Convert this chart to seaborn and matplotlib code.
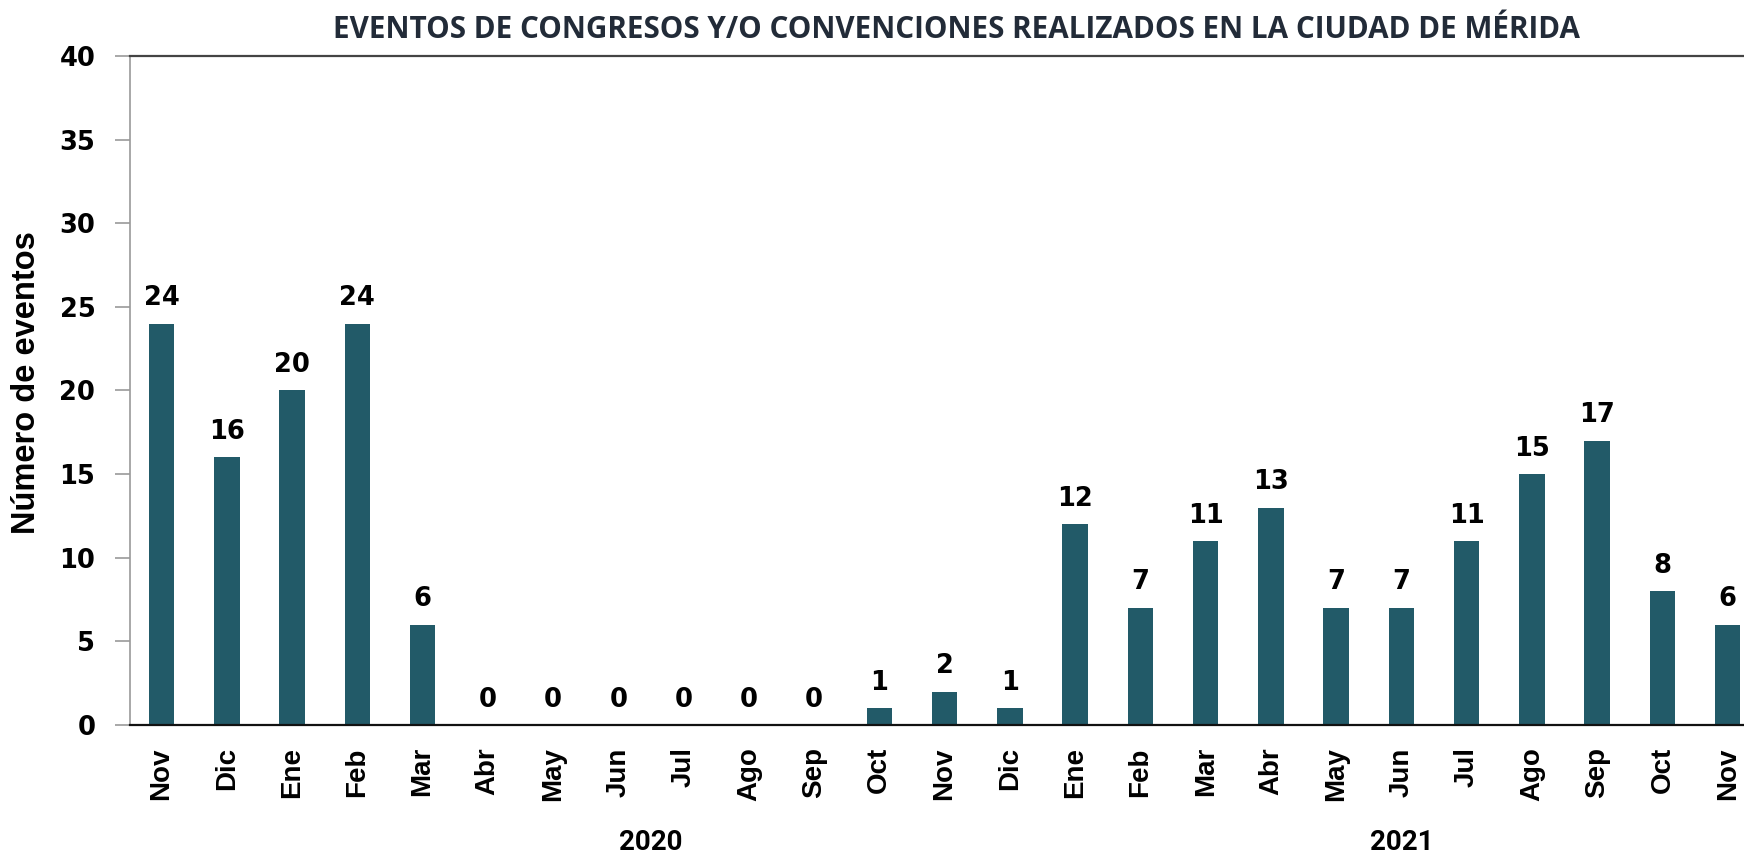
import matplotlib
matplotlib.use("Agg")
import matplotlib.pyplot as plt
import seaborn as sns
import pandas as pd
import numpy as np

title = "EVENTOS DE CONGRESOS Y/O CONVENCIONES REALIZADOS EN LA CIUDAD DE MÉRIDA"
ylabel = "Número de eventos"
months = ["Nov", "Dic", "Ene", "Feb", "Mar", "Abr", "May", "Jun", "Jul", "Ago", "Sep", "Oct", "Nov",
          "Dic", "Ene", "Feb", "Mar", "Abr", "May", "Jun", "Jul", "Ago", "Sep", "Oct", "Nov"]
years = ["2019"] * 2 + ["2020"] * 12 + ["2021"] * 11
values = [24, 16, 20, 24, 6, 0, 0, 0, 0, 0, 0, 1, 2, 1, 12, 7, 11, 13, 7, 7, 11, 15, 17, 8, 6]
shown_years = ["2020", "2021"]
yticks = [0, 5, 10, 15, 20, 25, 30, 35, 40]

df = pd.DataFrame({"key": [f"{m} {y}" for m, y in zip(months, years)],
                   "month": months, "year": years, "value": values})

sns.set_theme(style="white")
plt.rcParams["font.family"] = ["DejaVu Sans"]

fig = plt.figure(figsize=(17.44, 8.55), dpi=100)
L, B, T = 130 / 1744, 1 - 725 / 855, 1 - 56 / 855
ax = fig.add_axes([L, B, 1 - L, T - B])

bar_color = "#225A68"
sns.barplot(data=df, x="key", y="value", order=list(df["key"]), color=bar_color,
            width=0.39, saturation=1, ax=ax, edgecolor="none")

ax.set_xlim(-0.483, 24.25)
ax.set_ylim(0, 40)
ax.set_yticks(yticks)
ax.set_yticklabels([str(t) for t in yticks], fontsize=18.5, fontweight="bold", color="black",
                   family=["DejaVu Sans"])
ax.set_xticks(range(len(months)))
ax.set_xticklabels(months, rotation=90, fontsize=20, fontweight="bold",
                   family=["Liberation Sans", "DejaVu Sans"], color="black")
ax.tick_params(axis="y", which="major", length=11, width=1.2, color="#999999", pad=14, left=True)
ax.tick_params(axis="x", which="major", length=0, pad=16)

ax.spines["left"].set_color("#999999")
ax.spines["left"].set_linewidth(1.2)
ax.spines["top"].set_color("#444444")
ax.spines["top"].set_linewidth(1.6)
ax.spines["bottom"].set_color("#111111")
ax.spines["bottom"].set_linewidth(1.6)
ax.spines["right"].set_visible(False)

ax.set_xlabel("")
ax.set_ylabel("")
fig.text(27 / 1744, 1 - 383 / 855, ylabel, rotation=90, ha="center", va="center",
         fontsize=23.5, fontweight="bold", color="black", family=["Liberation Sans", "DejaVu Sans"])

for cont in ax.containers:
    ax.bar_label(cont, labels=[str(v) for v in values], padding=9, fontsize=18.5,
                 fontweight="bold", color="black")

# year group labels
trans = matplotlib.transforms.blended_transform_factory(ax.transData, fig.transFigure)
pos = np.arange(len(years))
for yr in shown_years:
    idx = pos[np.array(years) == yr]
    ax.text((idx.min() + idx.max()) / 2, 1 - 842 / 855, yr, transform=trans, ha="center",
            va="center", fontsize=20, fontweight="bold", color="black",
            family=["Roboto", "DejaVu Sans"])

fig.text(956 / 1744, 1 - 30 / 855, title, ha="center", va="center", fontsize=21.3,
         fontweight="bold", color="#222B38", family=["Open Sans", "DejaVu Sans"])

fig.savefig("out.png", dpi=100)
